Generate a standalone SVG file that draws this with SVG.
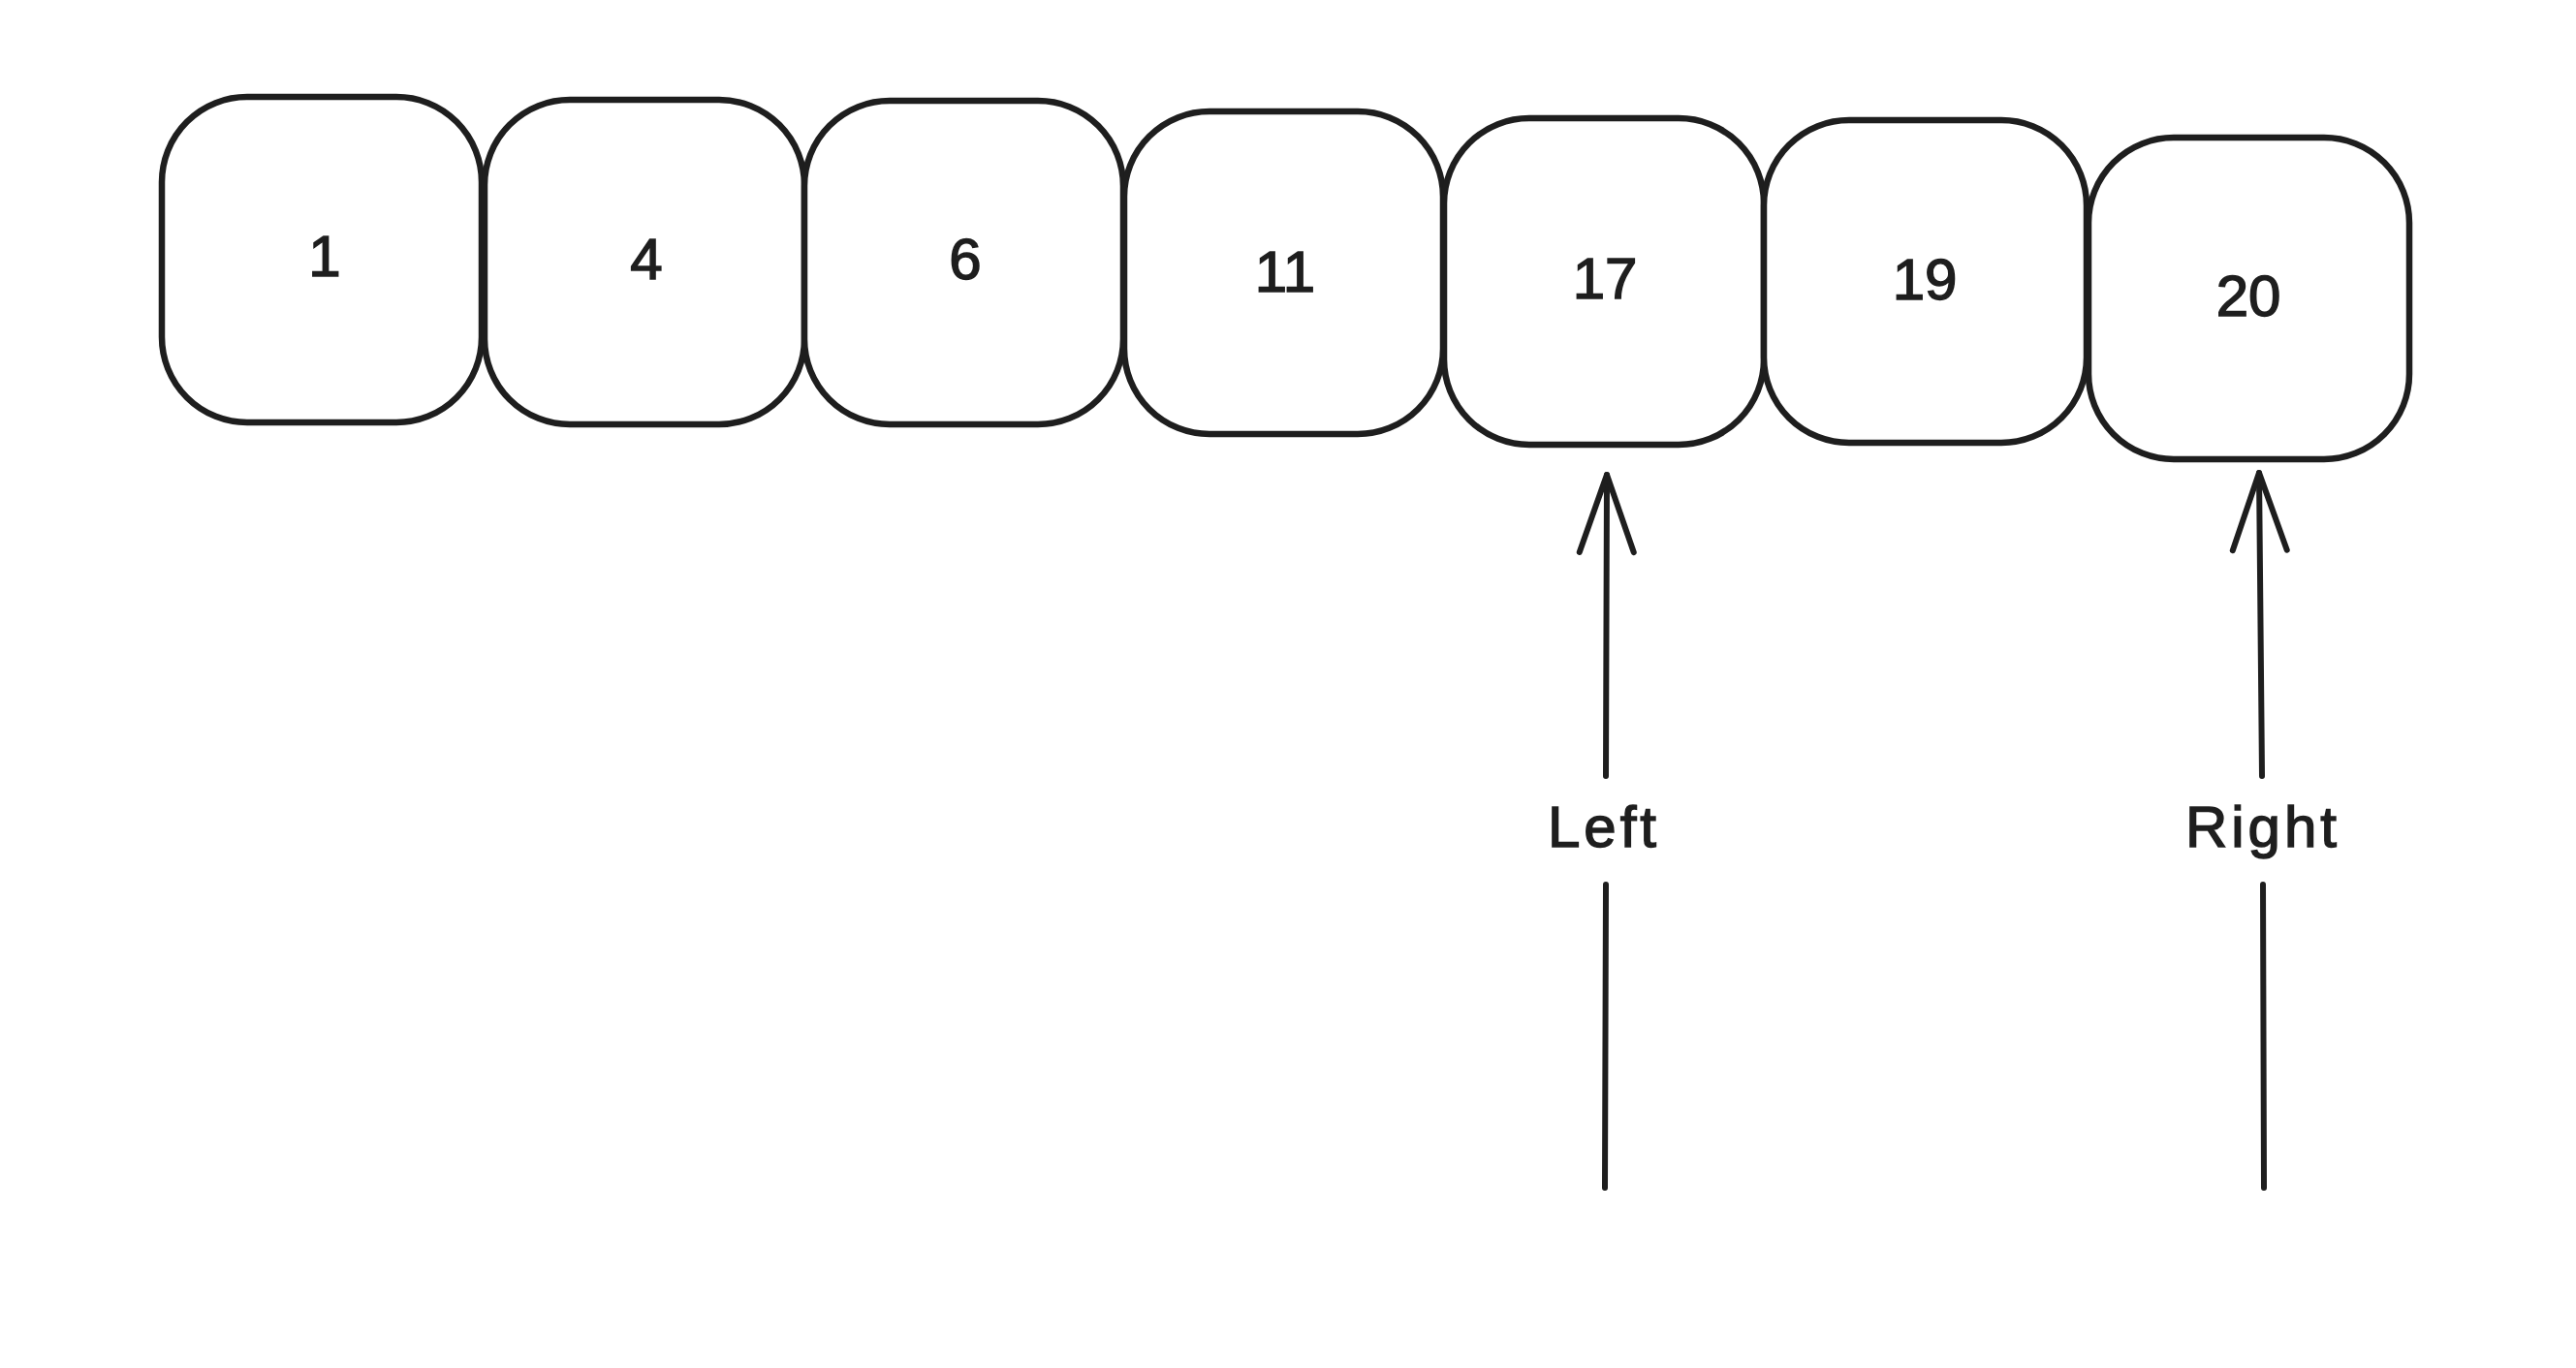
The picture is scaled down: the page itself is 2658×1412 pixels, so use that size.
<svg xmlns="http://www.w3.org/2000/svg" width="2658" height="1412" viewBox="0 0 2658 1412">
<style>
.box{fill:#ffffff;stroke:#1e1e1e;stroke-width:6.5;}
.lbl{font-family:"Liberation Sans","DejaVu Sans",sans-serif;font-size:60px;fill:#1e1e1e;stroke:#1e1e1e;stroke-width:1.5;text-anchor:middle;}
.wide{letter-spacing:4px;}
.conn{fill:none;stroke:#1e1e1e;stroke-width:6;stroke-linecap:round;}
</style>
<defs>
<marker id="arr" markerUnits="userSpaceOnUse" viewBox="-95 -40 105 80" markerWidth="105" markerHeight="80" refX="0" refY="0" orient="auto" overflow="visible">
<path d="M-80,-28 L0,0 L-80,28" fill="none" stroke="#1e1e1e" stroke-width="6" stroke-linecap="round" stroke-linejoin="round"/>
</marker>
</defs>
<rect width="2658" height="1412" fill="#ffffff"/>
<g id="node-1"><rect class="box" x="167" y="100" width="330" height="336" rx="88"/><text class="lbl" x="335" y="285">1</text></g>
<g id="node-4"><rect class="box" x="500" y="103" width="330" height="335" rx="88"/><text class="lbl" x="667" y="288">4</text></g>
<g id="node-6"><rect class="box" x="830" y="104" width="329" height="334" rx="88"/><text class="lbl" x="996" y="288">6</text></g>
<g id="node-11"><rect class="box" x="1160" y="115" width="329" height="333" rx="88"/><text class="lbl" x="1326" y="301">11</text></g>
<g id="node-17"><rect class="box" x="1490" y="122" width="330" height="337" rx="88"/><text class="lbl" x="1656" y="308">17</text></g>
<g id="node-19"><rect class="box" x="1820" y="124" width="333" height="333" rx="88"/><text class="lbl" x="1986" y="309">19</text></g>
<g id="node-20"><rect class="box" x="2155" y="142" width="331" height="332" rx="88"/><text class="lbl" x="2320" y="326">20</text></g>
<g id="connectors">
<g id="conn-left">
<path class="conn" d="M1656,1226 L1657,913"/>
<path class="conn" d="M1657,801 L1658,490" marker-end="url(#arr)"/>
<text class="lbl wide" x="1655" y="874">Left</text>
</g>
<g id="conn-right">
<path class="conn" d="M2336,1226 L2335,913"/>
<path class="conn" d="M2334,801 L2331,488" marker-end="url(#arr)"/>
<text class="lbl wide" x="2335" y="874">Right</text>
</g>
</g>
</svg>
